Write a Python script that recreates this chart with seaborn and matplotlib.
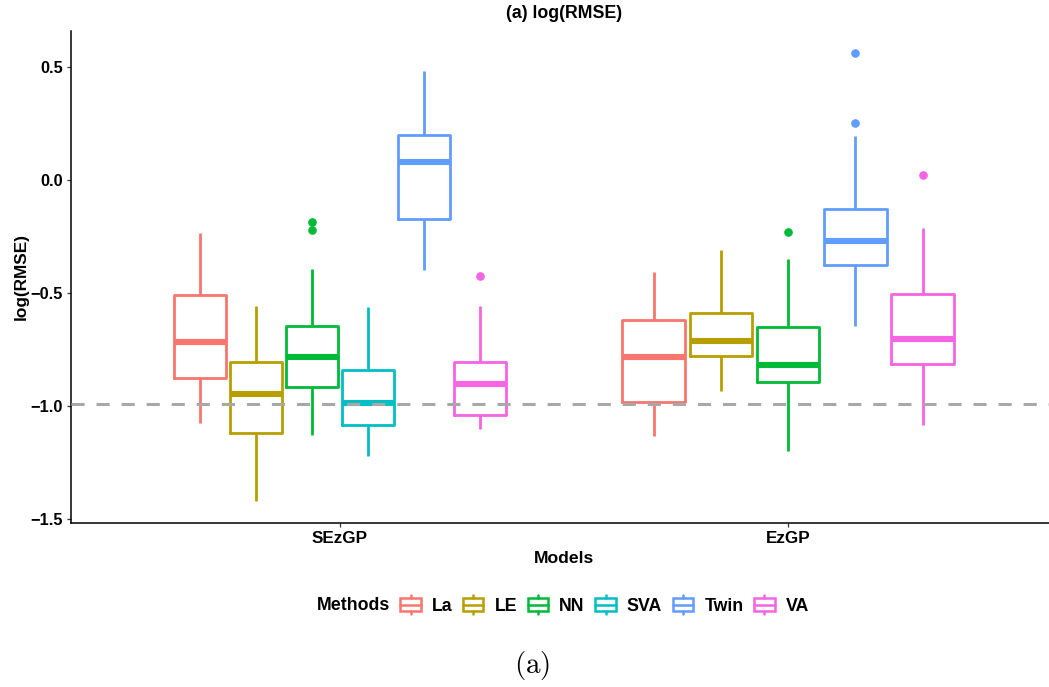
import matplotlib
matplotlib.use("Agg")
import matplotlib.pyplot as plt
import pandas as pd
import seaborn as sns
from matplotlib.patches import Patch, Rectangle
from matplotlib.lines import Line2D
from matplotlib.legend_handler import HandlerBase
from matplotlib.ticker import MultipleLocator

# ---- data: box summaries of log(RMSE) per model and method ----
models = ["SEzGP", "EzGP"]
methods = ["La", "LE", "NN", "SVA", "Twin", "VA"]
method_colors = ["#F8766D", "#B79F00", "#00BA38", "#00BFC4", "#619CFF", "#F564E3"]

sezgp_methods = ["La", "LE", "NN", "SVA", "Twin", "VA"]
sezgp_low = [-1.075, -1.417, -1.128, -1.222, -0.397, -1.102]
sezgp_q1 = [-0.877, -1.119, -0.915, -1.083, -0.173, -1.039]
sezgp_median = [-0.716, -0.948, -0.783, -0.987, 0.077, -0.901]
sezgp_q3 = [-0.509, -0.805, -0.645, -0.840, 0.200, -0.804]
sezgp_high = [-0.233, -0.559, -0.395, -0.563, 0.483, -0.559]
sezgp_outliers = [[], [], [-0.185, -0.223], [], [], [-0.423]]

ezgp_methods = ["La", "LE", "NN", "Twin", "VA"]
ezgp_low = [-1.131, -0.934, -1.197, -0.647, -1.084]
ezgp_q1 = [-0.980, -0.779, -0.892, -0.374, -0.813]
ezgp_median = [-0.782, -0.713, -0.817, -0.268, -0.702]
ezgp_q3 = [-0.620, -0.587, -0.651, -0.130, -0.504]
ezgp_high = [-0.406, -0.309, -0.348, 0.192, -0.214]
ezgp_outliers = [[], [], [-0.232], [0.250, 0.559], [0.022]]

reference_level = -0.99


def runs_from_summary(model, names, low, q1, med, q3, high, outliers, reps=20):
    """Sample whose quartiles, whisker ends and outliers equal the summary."""
    rows = []
    for i, name in enumerate(names):
        vals = ([low[i]] + [q1[i]] * reps + [med[i]] * reps + [q3[i]] * reps
                + [high[i]] + list(outliers[i]))
        rows += [(model, name, v) for v in vals]
    return rows


rows = runs_from_summary("SEzGP", sezgp_methods, sezgp_low, sezgp_q1, sezgp_median,
                         sezgp_q3, sezgp_high, sezgp_outliers)
rows += runs_from_summary("EzGP", ezgp_methods, ezgp_low, ezgp_q1, ezgp_median,
                          ezgp_q3, ezgp_high, ezgp_outliers)
df = pd.DataFrame(rows, columns=["Model", "Method", "log_rmse"])

# ---- style ----
sns.set_style("ticks")
plt.rcParams["font.family"] = ["Liberation Sans", "DejaVu Sans"]
plt.rcParams["font.weight"] = "bold"
plt.rcParams["axes.labelweight"] = "bold"
plt.rcParams["mathtext.fontset"] = "cm"
plt.rcParams["text.color"] = "black"
plt.rcParams["axes.labelcolor"] = "black"
plt.rcParams["xtick.color"] = "black"
plt.rcParams["ytick.color"] = "black"

W, H = 1049, 687
fig = plt.figure(figsize=(W / 100, H / 100), dpi=100)
ax = fig.add_axes([71 / W, 1 - 523 / H, 986 / W, 492 / H])

palette = dict(zip(methods, method_colors))
common = dict(x="Model", y="log_rmse", hue="Method", order=models, palette=palette,
              fill=False, width=0.75, gap=0.07, linewidth=2.0, showcaps=False,
              whis=1.5, flierprops=dict(marker="o"), fliersize=5.2, legend=False, ax=ax)
sns.boxplot(data=df[df["Model"] == "SEzGP"], hue_order=sezgp_methods, **common)
sns.boxplot(data=df[df["Model"] == "EzGP"], hue_order=ezgp_methods, **common)

# thick medians and solid outlier dots
for cont in ax.containers:
    for m in getattr(cont, "medians", []):
        m.set_linewidth(4.4)
        m.set_solid_capstyle("butt")
    for b in getattr(cont, "boxes", []):
        b.set_linewidth(2.0)
    for w in getattr(cont, "whiskers", []):
        w.set_linewidth(2.0)
    for f in getattr(cont, "fliers", []):
        f.set_markerfacecolor(f.get_markeredgecolor())

ax.axhline(reference_level, color="#A8A8A8", lw=2.2, ls=(0, (4.3, 3.9)), zorder=10)

# ggplot-like limits: 5% padding on y, 0.6 on discrete x
all_vals = df["log_rmse"]
span = all_vals.max() - all_vals.min()
ax.set_ylim(all_vals.min() - 0.05 * span, all_vals.max() + 0.05 * span)
ax.set_xlim(-0.6, len(models) - 1 + 0.6)
ax.yaxis.set_major_locator(MultipleLocator(0.5))

for s in ["top", "right"]:
    ax.spines[s].set_visible(False)
for s in ["left", "bottom"]:
    ax.spines[s].set_linewidth(1.1)
    ax.spines[s].set_color("black")
ax.tick_params(axis="both", length=2.8, width=0.9, color="#333333", pad=3)
ax.tick_params(axis="y", labelsize=11.8, labelcolor="black")
ax.tick_params(axis="x", labelsize=12.3, labelcolor="black")
for lab in ax.get_xticklabels() + ax.get_yticklabels():
    lab.set_fontweight("bold")

ax.set_xlabel("Models", fontsize=12.6, fontweight="bold", color="black")
ax.set_ylabel("log(RMSE)", fontsize=12.4, fontweight="bold", color="black")
ax.xaxis.set_label_coords(0.5, -0.056)
ax.yaxis.set_label_coords(-0.043, 0.5)

fig.text(564 / W, 1 - 14 / H, "(a) log(RMSE)", ha="center", va="center",
         fontsize=12.8, fontweight="bold", color="black")


class BoxKey(HandlerBase):
    def create_artists(self, legend, orig_handle, xdescent, ydescent, width, height,
                       fontsize, trans):
        c = orig_handle.get_edgecolor()
        x0, y0 = -xdescent, -ydescent
        lw = 1.8
        box = Rectangle((x0 + 1, y0 + 0.15 * height), width - 2, 0.70 * height,
                        facecolor="white", edgecolor=c, lw=lw, transform=trans)
        med = Line2D([x0 + 1, x0 + width - 1], [y0 + 0.5 * height] * 2, color=c, lw=lw,
                     transform=trans)
        wt = Line2D([x0 + width / 2] * 2, [y0 + 0.85 * height, y0 + height], color=c,
                    lw=lw, transform=trans)
        wb = Line2D([x0 + width / 2] * 2, [y0, y0 + 0.15 * height], color=c, lw=lw,
                    transform=trans)
        return [box, med, wt, wb]


handles = [Patch(edgecolor=c, facecolor="white") for c in method_colors]
fig.legend(handles, methods, handler_map={Patch: BoxKey()}, loc="center left",
           bbox_to_anchor=(399 / W, 1 - 605 / H), ncol=len(methods), frameon=False,
           prop=dict(size=12.8, weight="bold"), handlelength=1.3, handleheight=1.25,
           handletextpad=0.55, columnspacing=0.52, borderpad=0, borderaxespad=0)
fig.text(390 / W, 1 - 605 / H, "Methods", ha="right", va="center",
         fontsize=12.8, fontweight="bold", color="black")

fig.text(532 / W, 1 - 665 / H, r"$\mathrm{(a)}$", ha="center", va="center",
         fontsize=21, color="black")

fig.savefig("out.png", dpi=100)
